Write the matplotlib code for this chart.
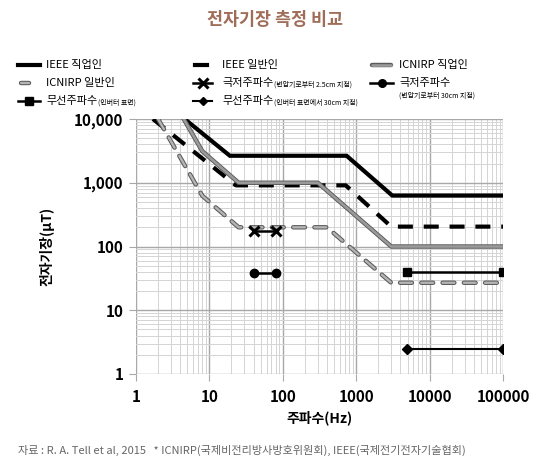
import numpy as np
import matplotlib
matplotlib.use("Agg")
import matplotlib.pyplot as plt
import matplotlib.patheffects as pe
from matplotlib.lines import Line2D
from matplotlib.ticker import FixedLocator, LogLocator, NullFormatter

plt.rcParams['font.family'] = ['Noto Sans CJK KR', 'DejaVu Sans']

# --- data (frequency Hz, field uT) ---
ieee_occ_f = [4.6, 19, 740, 3100, 100000]
ieee_occ_b = [10000, 2650, 2650, 630, 630]

ieee_gen_f = [1.7, 23, 720, 3000, 100000]
ieee_gen_b = [10000, 910, 910, 205, 205]

icnirp_occ_f = [4.47, 8, 25, 300, 3000, 100000]
icnirp_occ_b = [10000, 3125, 1000, 1000, 100, 100]

icnirp_gen_f = [2, 8, 25, 400, 3000, 100000]
icnirp_gen_b = [10000, 625, 200, 200, 27, 27]

elf_25cm_f = [40, 80]
elf_25cm_b = [177, 177]

elf_30cm_f = [40, 80]
elf_30cm_b = [39, 39]

rf_surf_f = [4900, 100000]
rf_surf_b = [40, 40]

rf_30cm_f = [4900, 100000]
rf_30cm_b = [2.45, 2.45]

x_ticks = [1, 10, 100, 1000, 10000, 100000]
x_tick_labels = ["1", "10", "100", "1000", "10000", "100000"]
y_ticks = [1, 10, 100, 1000, 10000]
y_tick_labels = ["1", "10", "100", "1,000", "10,000"]


fig = plt.figure(figsize=(5.5, 4.74), dpi=100)
ax = fig.add_axes([136/550, 100/474, 367/550, 255/474])

ax.set_xscale('log')
ax.set_yscale('log')
ax.set_xlim(1, 100000)
ax.set_ylim(1, 10000)

# Grid
ax.xaxis.set_major_locator(FixedLocator(x_ticks))
ax.yaxis.set_major_locator(FixedLocator(y_ticks))
ax.xaxis.set_minor_locator(LogLocator(base=10, subs=np.arange(2, 10), numticks=20))
ax.yaxis.set_minor_locator(LogLocator(base=10, subs=np.arange(2, 10), numticks=20))
ax.xaxis.set_minor_formatter(NullFormatter())
ax.yaxis.set_minor_formatter(NullFormatter())
ax.grid(which='major', color='#a8a8a8', lw=1.0)
ax.grid(which='minor', color='#d4d4d4', lw=0.7)
ax.set_axisbelow(True)
for sp in ax.spines.values():
    sp.set_visible(False)

ax.set_xticks(x_ticks)
ax.set_xticklabels(x_tick_labels)
ax.set_yticks(y_ticks)
ax.set_yticklabels(y_tick_labels)
ax.tick_params(which='major', length=5, color='#a8a8a8', labelsize=11)
ax.tick_params(axis='x', pad=6)
ax.tick_params(axis='y', pad=4)
ax.tick_params(which='minor', length=0)
for lbl in ax.get_xticklabels() + ax.get_yticklabels():
    lbl.set_fontweight('bold')

ax.set_xlabel("주파수(Hz)", fontsize=10, fontweight='bold', labelpad=4)
ax.set_ylabel("전자기장(μT)", fontsize=10, fontweight='bold', labelpad=14)


### Limit lines ###
gray_fx = [pe.Stroke(linewidth=3.2, foreground='#5a5a5a'), pe.Normal()]

ax.plot(ieee_occ_f, ieee_occ_b, color='black', lw=3, solid_joinstyle='miter')
ax.plot(ieee_gen_f, ieee_gen_b, color='black', lw=3, dashes=(3.6, 2.6))
ax.plot(icnirp_occ_f, icnirp_occ_b, color='#9a9a9a', lw=1.9, path_effects=gray_fx)
ax.plot(icnirp_gen_f, icnirp_gen_b, color='#b4b4b4', lw=1.7,
    dashes=(5.0, 4.0), dash_capstyle='round', path_effects=gray_fx)

### Measurements ###
ax.plot(elf_25cm_f, elf_25cm_b, color='black', lw=1.8, marker='x', ms=7, mew=2.2)
ax.plot(elf_30cm_f, elf_30cm_b, color='black', lw=1.8, marker='o', ms=6)
ax.plot(rf_surf_f, rf_surf_b, color='black', lw=1.8, marker='s', ms=6)
ax.plot(rf_30cm_f, rf_30cm_b, color='black', lw=1.5, marker='D', ms=5)


### Title ###
fig.text(0.5, 1 - 20/474, "전자기장 측정 비교", ha='center', va='center',
    fontsize=12.5, fontweight='bold', color='#a06e58')


### Manual legend (pixel positions from the top-left) ###
renderer = fig.canvas.get_renderer()

def fy(y):
    return 1 - y/474

def leg_handle(x0, x1, y, marker=None, ms=5.5, mew=1, **kw):
    fig.add_artist(Line2D([x0/550, x1/550], [fy(y)]*2, transform=fig.transFigure, **kw))
    if marker is not None:
        fig.add_artist(Line2D([(x0 + x1)/2/550], [fy(y)], transform=fig.transFigure,
            color='black', marker=marker, ms=ms, mew=mew))

def leg_text(x, y, text, sub=None):
    t = fig.text(x/550, fy(y), text, ha='left', va='center', fontsize=8)
    if sub is not None:
        bb = t.get_window_extent(renderer)
        fig.text(bb.x1/550 + 0.5/550, fy(y + 2), sub, ha='left', va='center', fontsize=5)

r1, r2, r3 = 65, 83, 101

leg_handle(18, 40, r1, color='black', lw=3)
leg_text(46, r1, "IEEE 직업인")
leg_handle(195, 207, r1, color='black', lw=3)
leg_text(222, r1, "IEEE 일반인")
leg_handle(372, 391, r1, color='#9a9a9a', lw=1.9, solid_capstyle='round', path_effects=gray_fx)
leg_text(399, r1, "ICNIRP 직업인")

leg_handle(21, 29, r2, color='#b4b4b4', lw=1.7, solid_capstyle='round', path_effects=gray_fx)
leg_text(46, r2, "ICNIRP 일반인")
leg_handle(193, 212, r2, marker='x', ms=7, mew=2.2, color='black', lw=1.8)
leg_text(222, r2, "극저주파수", "(변압기로부터 2.5cm 지점)")
leg_handle(370, 393, r2, marker='o', ms=5.5, color='black', lw=1.8)
leg_text(399, r2, "극저주파수")
fig.text(399/550, fy(96), "(변압기로부터 30cm 지점)", ha='left', va='center', fontsize=5)

leg_handle(18, 40, r3, marker='s', ms=5.5, color='black', lw=1.8)
leg_text(46, r3, "무선주파수", "(인버터 표면)")
leg_handle(193, 212, r3, marker='D', ms=4, color='black', lw=1.5)
leg_text(222, r3, "무선주파수", "(인버터 표면에서 30cm 지점)")


### Source note ###
fig.text(18/550, fy(450),
    "자료 : R. A. Tell et al, 2015   * ICNIRP(국제비전리방사방호위원회), IEEE(국제전기전자기술협회)",
    ha='left', va='center', fontsize=8, color='#666666')

fig.savefig("out.png", dpi=100, facecolor='white')
